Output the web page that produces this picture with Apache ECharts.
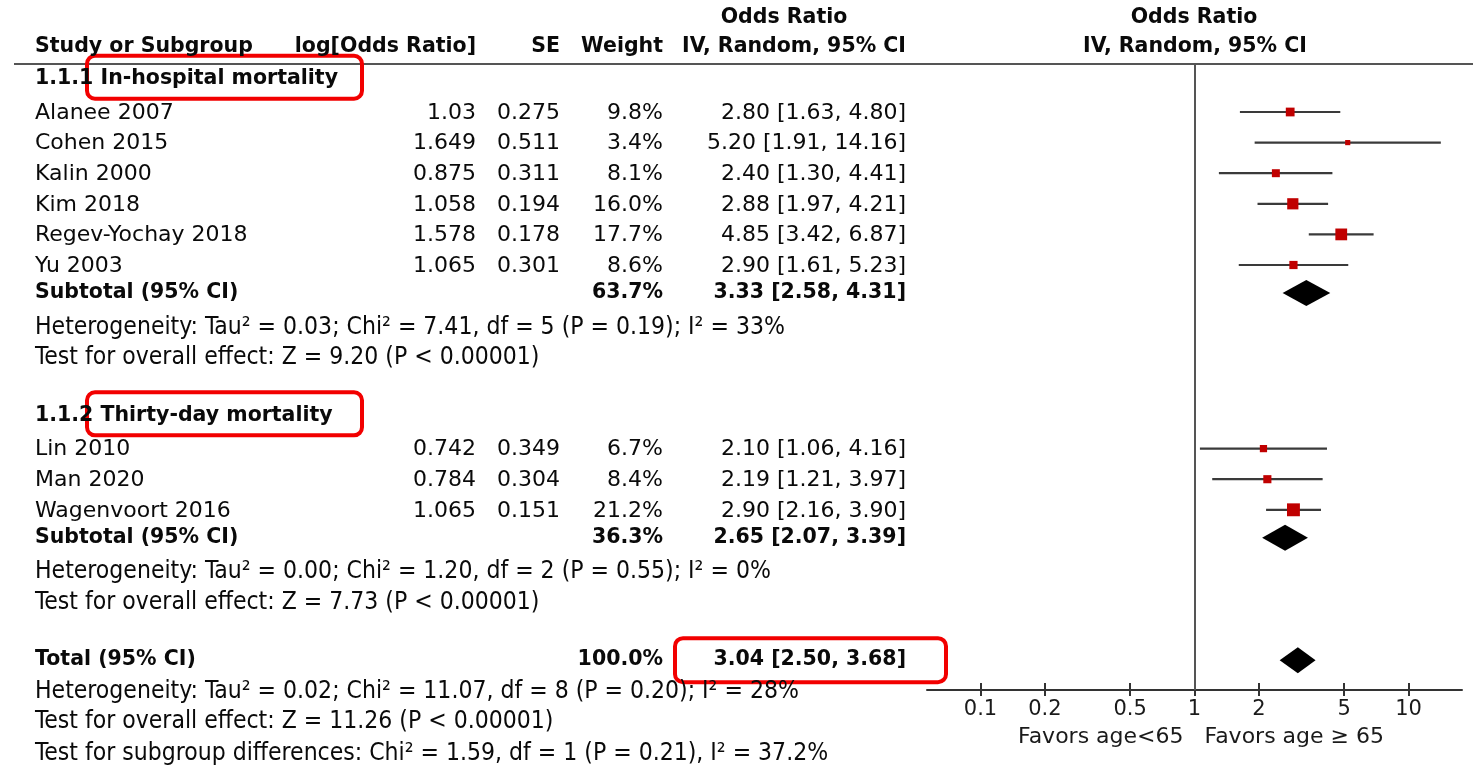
<!DOCTYPE html>
<html>
<head>
<meta charset="utf-8">
<script src="https://cdn.jsdelivr.net/npm/echarts@6/dist/echarts.min.js"></script>
<style>
  html, body { margin: 0; padding: 0; background: #fff; }
  #chart { width: 1473px; height: 768px; }
</style>
</head>
<body>
<div id="chart"></div>
<script>
// ---- Data -------------------------------------------------------------
const groupCodes = ['1.1.1', '1.1.2'];
const groupNames = ['In-hospital mortality', 'Thirty-day mortality'];
const studyNames = [
  ['Alanee 2007', 'Cohen 2015', 'Kalin 2000', 'Kim 2018', 'Regev-Yochay 2018', 'Yu 2003'],
  ['Lin 2010', 'Man 2020', 'Wagenvoort 2016']
];
const logOddsRatio = [[1.03, 1.649, 0.875, 1.058, 1.578, 1.065], [0.742, 0.784, 1.065]];
const standardError = [[0.275, 0.511, 0.311, 0.194, 0.178, 0.301], [0.349, 0.304, 0.151]];
const weights = [[9.8, 3.4, 8.1, 16.0, 17.7, 8.6], [6.7, 8.4, 21.2]];
const oddsRatio = [[2.80, 5.20, 2.40, 2.88, 4.85, 2.90], [2.10, 2.19, 2.90]];
const ciLower = [[1.63, 1.91, 1.30, 1.97, 3.42, 1.61], [1.06, 1.21, 2.16]];
const ciUpper = [[4.80, 14.16, 4.41, 4.21, 6.87, 5.23], [4.16, 3.97, 3.90]];

// pooled estimates: subgroup 1.1.1, subgroup 1.1.2, overall
const pooledWeight = [63.7, 36.3, 100.0];
const pooledOR = [3.33, 2.65, 3.04];
const pooledLower = [2.58, 2.07, 2.50];
const pooledUpper = [4.31, 3.39, 3.68];

const heterogeneityText = [
  'Heterogeneity: Tau² = 0.03; Chi² = 7.41, df = 5 (P = 0.19); I² = 33%',
  'Heterogeneity: Tau² = 0.00; Chi² = 1.20, df = 2 (P = 0.55); I² = 0%',
  'Heterogeneity: Tau² = 0.02; Chi² = 11.07, df = 8 (P = 0.20); I² = 28%'
];
const overallEffectText = [
  'Test for overall effect: Z = 9.20 (P < 0.00001)',
  'Test for overall effect: Z = 7.73 (P < 0.00001)',
  'Test for overall effect: Z = 11.26 (P < 0.00001)'
];
const subgroupTestText = 'Test for subgroup differences: Chi² = 1.59, df = 1 (P = 0.21), I² = 37.2%';

const axisTickValues = [0.1, 0.2, 0.5, 1, 2, 5, 10];
const favorsLabels = ['Favors age<65', 'Favors age ≥ 65'];

// ---- Layout -----------------------------------------------------------
const W = 1473, H = 768;
const FONT = '"DejaVu Sans", "Liberation Sans", sans-serif';
const NARROW = '"Liberation Sans Narrow", "DejaVu Sans Condensed", "Liberation Sans", sans-serif';
const SIZE_REG = 22, SIZE_BOLD = 20.5, SIZE_NARROW = 24.5;
const TEXT = '#0a0a0a';
const SQUARE = '#c00000';
const LINE = '#3a3a3a';
const BOX = '#f20000';

// column anchors of the table (px)
const COL_NAME = 35, COL_LOG = 476, COL_SE = 560, COL_W = 663, COL_CI = 906, COL_OR_MID = 784;
const PLOT_LEFT = 927, PLOT_RIGHT = 1462, PLOT_TOP = 64, PLOT_BOTTOM = 690;
const ROW0_PX = 82.4, ROW_PX = 30.6;           // row grid shared by table and plot
const rowAt = px => (px - ROW0_PX) / ROW_PX;
const BOLD_SHIFT = -0.12;

const lg = v => Math.log10(v);
const ciText = (o, l, u) => o.toFixed(2) + ' [' + l.toFixed(2) + ', ' + u.toFixed(2) + ']';

const cells = [];      // text cells of the table
const studyMarks = []; // [lo, hi, est, row, weight] in log10 space
const diamonds = [];   // [lo, hi, est, row]
const boxes = [];      // highlighted labels

function cell(x, row, text, opt) {
  cells.push(Object.assign({ x, row, text, align: 'left', bold: false, narrow: false }, opt || {}));
}

// header
cell(COL_OR_MID, rowAt(18), 'Odds Ratio', { align: 'center', bold: true });
cell(COL_NAME, rowAt(47), 'Study or Subgroup', { bold: true });
cell(COL_LOG, rowAt(47), 'log[Odds Ratio]', { align: 'right', bold: true });
cell(COL_SE, rowAt(47), 'SE', { align: 'right', bold: true });
cell(COL_W, rowAt(47), 'Weight', { align: 'right', bold: true });
cell(COL_CI, rowAt(47), 'IV, Random, 95% CI', { align: 'right', bold: true });
cell(1194, rowAt(18), 'Odds Ratio', { align: 'center', bold: true });
cell(1195, rowAt(47), 'IV, Random, 95% CI', { align: 'center', bold: true });

let r = 0;
studyNames.forEach((names, g) => {
  cell(COL_NAME, r + BOLD_SHIFT, groupCodes[g] + ' ' + groupNames[g], { bold: true });
  boxes.push({ x: 87, w: 275, row: r + BOLD_SHIFT, up: 23, h: 43 });
  r++;
  names.forEach((name, i) => {
    cell(COL_NAME, r, name);
    cell(COL_LOG, r, String(logOddsRatio[g][i]), { align: 'right' });
    cell(COL_SE, r, String(standardError[g][i]), { align: 'right' });
    cell(COL_W, r, weights[g][i].toFixed(1) + '%', { align: 'right' });
    cell(COL_CI, r, ciText(oddsRatio[g][i], ciLower[g][i], ciUpper[g][i]), { align: 'right' });
    studyMarks.push([lg(ciLower[g][i]), lg(ciUpper[g][i]), lg(oddsRatio[g][i]), r, weights[g][i]]);
    r++;
  });
  const sr = r + BOLD_SHIFT;
  cell(COL_NAME, sr, 'Subtotal (95% CI)', { bold: true });
  cell(COL_W, sr, pooledWeight[g].toFixed(1) + '%', { align: 'right', bold: true });
  cell(COL_CI, sr, ciText(pooledOR[g], pooledLower[g], pooledUpper[g]), { align: 'right', bold: true });
  diamonds.push([lg(pooledLower[g]), lg(pooledUpper[g]), lg(pooledOR[g]), sr]);
  r++;
  cell(COL_NAME, r, heterogeneityText[g], { narrow: true }); r++;
  cell(COL_NAME, r, overallEffectText[g], { narrow: true }); r++;
  r++; // spacer
});

// overall
const tr = r + BOLD_SHIFT;
cell(COL_NAME, tr, 'Total (95% CI)', { bold: true });
cell(COL_W, tr, pooledWeight[2].toFixed(1) + '%', { align: 'right', bold: true });
cell(COL_CI, tr, ciText(pooledOR[2], pooledLower[2], pooledUpper[2]), { align: 'right', bold: true });
diamonds.push([lg(pooledLower[2]), lg(pooledUpper[2]), lg(pooledOR[2]), tr]);
boxes.push({ x: 675, w: 271, row: tr, up: 22, h: 44 });
r++;
cell(COL_NAME, r - 0.08, heterogeneityText[2], { narrow: true }); r++;
cell(COL_NAME, r - 0.1, overallEffectText[2], { narrow: true }); r++;
cell(COL_NAME, r - 0.08, subgroupTestText, { narrow: true });

const favorsRow = rowAt(737);
const tickLogs = axisTickValues.map(lg);

// ---- Chart ------------------------------------------------------------
const chart = echarts.init(document.getElementById('chart'), null, { renderer: 'canvas', width: W, height: H });

const textStyle = c => ({
  text: c.text,
  fill: TEXT,
  fontSize: c.narrow ? SIZE_NARROW : (c.bold ? SIZE_BOLD : SIZE_REG),
  fontFamily: c.narrow ? NARROW : FONT,
  fontWeight: c.bold ? 'bold' : 'normal',
  align: c.align,
  verticalAlign: 'middle'
});

const tickFormatter = v => String(parseFloat(Math.pow(10, v).toPrecision(2)));

chart.setOption({
  animation: false,
  backgroundColor: '#fff',
  grid: [
    { left: 0, top: 0, width: W, height: H },
    { left: PLOT_LEFT, top: PLOT_TOP, width: PLOT_RIGHT - PLOT_LEFT, height: PLOT_BOTTOM - PLOT_TOP }
  ],
  xAxis: [
    { gridIndex: 0, type: 'value', min: 0, max: W, show: false },
    {
      gridIndex: 1, type: 'value', min: -1.25, max: 1.25, position: 'bottom',
      axisLine: { show: true, onZero: false, lineStyle: { color: '#333', width: 2 } },
      axisTick: { show: true, inside: true, length: 7, customValues: tickLogs, lineStyle: { color: '#333', width: 2 } },
      axisLabel: {
        show: true, customValues: tickLogs, formatter: tickFormatter, margin: 9,
        fontSize: 21, fontFamily: FONT, color: '#1a1a1a'
      },
      splitLine: { show: false }
    },
    {
      gridIndex: 1, type: 'value', min: -1.25, max: 1.25, position: 'bottom',
      axisLine: { show: false, onZero: false },
      axisTick: { show: true, inside: false, length: 6, customValues: tickLogs, lineStyle: { color: '#333', width: 2 } },
      axisLabel: { show: false },
      splitLine: { show: false }
    }
  ],
  yAxis: [
    { gridIndex: 0, type: 'value', inverse: true, min: rowAt(0), max: rowAt(H), show: false },
    { gridIndex: 1, type: 'value', inverse: true, min: rowAt(PLOT_TOP), max: rowAt(PLOT_BOTTOM), show: false }
  ],
  series: [
    {
      // table text
      type: 'custom', xAxisIndex: 0, yAxisIndex: 0, silent: true,
      data: cells.map(c => [c.x, c.row]),
      encode: { x: 0, y: 1 },
      renderItem: (params, api) => {
        const c = cells[params.dataIndex];
        const p = api.coord([c.x, c.row]);
        return { type: 'text', x: p[0], y: p[1], style: textStyle(c) };
      }
    },
    {
      // confidence intervals and weighted squares
      type: 'custom', xAxisIndex: 1, yAxisIndex: 1, silent: true,
      data: studyMarks,
      encode: { x: [0, 1, 2], y: 3 },
      renderItem: (params, api) => {
        const row = api.value(3);
        const a = api.coord([api.value(0), row]);
        const b = api.coord([api.value(1), row]);
        const e = api.coord([api.value(2), row]);
        const s = 2.8 * Math.sqrt(api.value(4));
        return {
          type: 'group',
          children: [
            { type: 'line', shape: { x1: a[0], y1: a[1] - 1, x2: b[0], y2: b[1] - 1 }, style: { stroke: LINE, lineWidth: 2.2 } },
            { type: 'rect', shape: { x: e[0] - s / 2, y: e[1] - 1 - s / 2, width: s, height: s }, style: { fill: SQUARE } }
          ]
        };
      }
    },
    {
      // pooled diamonds, plus the line of no effect
      type: 'custom', xAxisIndex: 1, yAxisIndex: 1, silent: true,
      data: diamonds,
      encode: { x: [0, 1, 2], y: 3 },
      renderItem: (params, api) => {
        const row = api.value(3);
        const a = api.coord([api.value(0), row]);
        const b = api.coord([api.value(1), row]);
        const e = api.coord([api.value(2), row]);
        const hh = 13;
        return {
          type: 'polygon',
          shape: { points: [[a[0], a[1]], [e[0], e[1] - hh], [b[0], b[1]], [e[0], e[1] + hh]] },
          style: { fill: '#000' }
        };
      },
      markLine: {
        silent: true, symbol: ['none', 'none'], label: { show: false },
        lineStyle: { color: '#555', width: 2, type: 'solid' },
        data: [{ xAxis: 0 }]
      }
    },
    {
      // direction labels under the axis
      type: 'custom', xAxisIndex: 1, yAxisIndex: 1, silent: true,
      data: favorsLabels.map(() => [0, favorsRow]),
      encode: { x: 0, y: 1 },
      renderItem: (params, api) => {
        const p = api.coord([api.value(0), api.value(1)]);
        const left = params.dataIndex === 0;
        return {
          type: 'text', x: p[0] + (left ? -11 : 10), y: p[1],
          style: {
            text: favorsLabels[params.dataIndex], fill: '#1a1a1a', fontSize: 22, fontFamily: FONT,
            align: left ? 'right' : 'left', verticalAlign: 'middle'
          }
        };
      }
    }
  ]
});

// header rule and highlight boxes, positioned on the table's row scale
const rulePx = chart.convertToPixel({ gridIndex: 0 }, [0, rowAt(PLOT_TOP)])[1];
const graphics = [
  { type: 'line', shape: { x1: 14, y1: rulePx, x2: W, y2: rulePx }, style: { stroke: '#555', lineWidth: 2 }, silent: true }
];
boxes.forEach(b => {
  const p = chart.convertToPixel({ gridIndex: 0 }, [b.x, b.row]);
  graphics.push({
    type: 'rect', silent: true,
    shape: { x: p[0], y: p[1] - b.up, width: b.w, height: b.h, r: 8 },
    style: { fill: 'none', stroke: BOX, lineWidth: 4 }
  });
});
chart.setOption({ graphic: graphics });
</script>
</body>
</html>
